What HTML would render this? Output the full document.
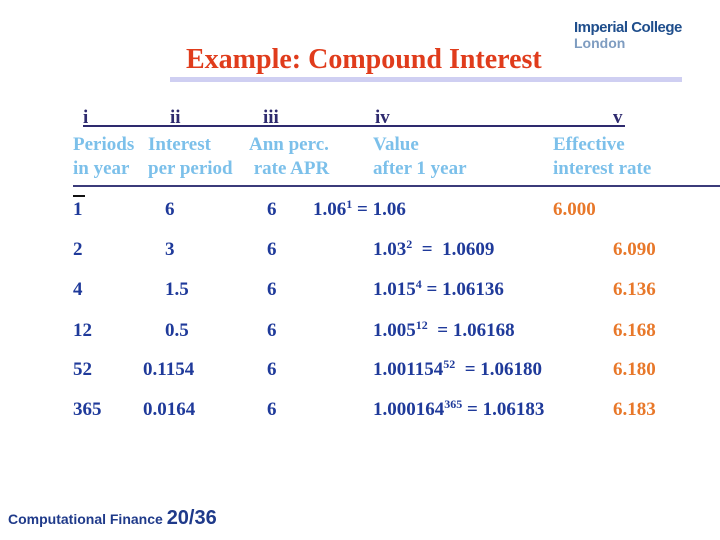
<!DOCTYPE html>
<html><head><meta charset="utf-8"><style>
body{margin:0;width:720px;height:540px;background:#fff;position:relative;overflow:hidden;font-family:"Liberation Serif",serif;}
.a{position:absolute;white-space:nowrap;line-height:1;}
.b{font-weight:bold;font-size:19px;color:#1f3a9a;}
.h{font-weight:bold;font-size:19px;color:#7cc0ea;}
.o{font-weight:bold;font-size:19px;color:#e8782a;}
.r{font-weight:bold;font-size:19px;color:#2e2a6e;}
sup{font-size:12px;vertical-align:7px;line-height:0;}
</style></head><body>
<div class="a" style="left:186px;top:46px;font-size:28px;font-weight:bold;color:#e03c1c;">Example: Compound Interest</div>
<div class="a" style="left:170px;top:77px;width:512px;height:5px;background:#cfcff2;"></div>
<div class="a" style="left:574px;top:20px;font-family:'Liberation Sans',sans-serif;font-size:15px;font-weight:bold;color:#1f4e8c;letter-spacing:-0.5px;">Imperial College</div>
<div class="a" style="left:574px;top:36px;font-family:'Liberation Sans',sans-serif;font-size:14px;font-weight:bold;color:#7e9cc0;">London</div>

<div class="a" style="left:83px;top:125px;width:542px;height:2px;background:#2e2a6e;"></div>
<div class="a r" style="left:83px;top:108px;">i</div>
<div class="a r" style="left:170px;top:108px;">ii</div>
<div class="a r" style="left:263px;top:108px;">iii</div>
<div class="a r" style="left:375px;top:108px;">iv</div>
<div class="a r" style="left:613px;top:108px;">v</div>

<div class="a h" style="left:73px;top:133px;line-height:24px;">Periods<br>in year</div>
<div class="a h" style="left:148px;top:133px;line-height:24px;">Interest<br>per period</div>
<div class="a h" style="left:249px;top:133px;line-height:24px;">Ann perc.<br>&nbsp;rate APR</div>
<div class="a h" style="left:373px;top:133px;line-height:24px;">Value<br>after 1 year</div>
<div class="a h" style="left:553px;top:133px;line-height:24px;">Effective<br>interest rate</div>

<div class="a" style="left:73px;top:185px;width:647px;height:2px;background:#3b3b7a;"></div>
<div class="a" style="left:73px;top:195px;width:12px;height:2px;background:#111;"></div>

<div id="rows"></div>
<div class="a" style="left:8px;top:508px;font-family:'Liberation Sans',sans-serif;font-weight:bold;color:#1f3a8a;font-size:14px;">Computational Finance <span style="font-size:20px;">20/36</span></div>
<script>
const periods=["1","2","4","12","52","365"];
const perPeriod=["6","3","1.5","0.5","0.1154","0.0164"];
const apr=["6","6","6","6","6","6"];
const bases=["1.06","1.03","1.015","1.005","1.001154","1.000164"];
const values=["1.06","1.0609","1.06136","1.06168","1.06180","1.06183"];
const effective=["6.000","6.090","6.136","6.168","6.180","6.183"];
const rowTop=[200,240,280,321,360,400];
const root=document.getElementById('rows');
function cell(cls,x,y,html,name){const d=document.createElement('div');d.className='a '+cls;d.style.left=x+'px';d.style.top=y+'px';d.innerHTML=html;


root.appendChild(d);}
for(let i=0;i<periods.length;i++){
 const y=rowTop[i];
 cell('b',73,y,periods[i],'periods-'+i);
 cell('b',perPeriod[i].length>4?143:165,y,perPeriod[i],'per-period-'+i);
 cell('b',267,y,apr[i],'apr-'+i);
 const sp=i==0?' = ':(i==1?'&nbsp; = &nbsp;':(i==2?' = ':(i==5?' = ':'&nbsp; = ')));
 cell('b',i==0?313:373,y,bases[i]+'<sup>'+periods[i]+'</sup>'+sp+values[i],'value-'+i);
 cell('o',i==0?553:613,y,effective[i],'effective-'+i);
}
</script>
</body></html>
